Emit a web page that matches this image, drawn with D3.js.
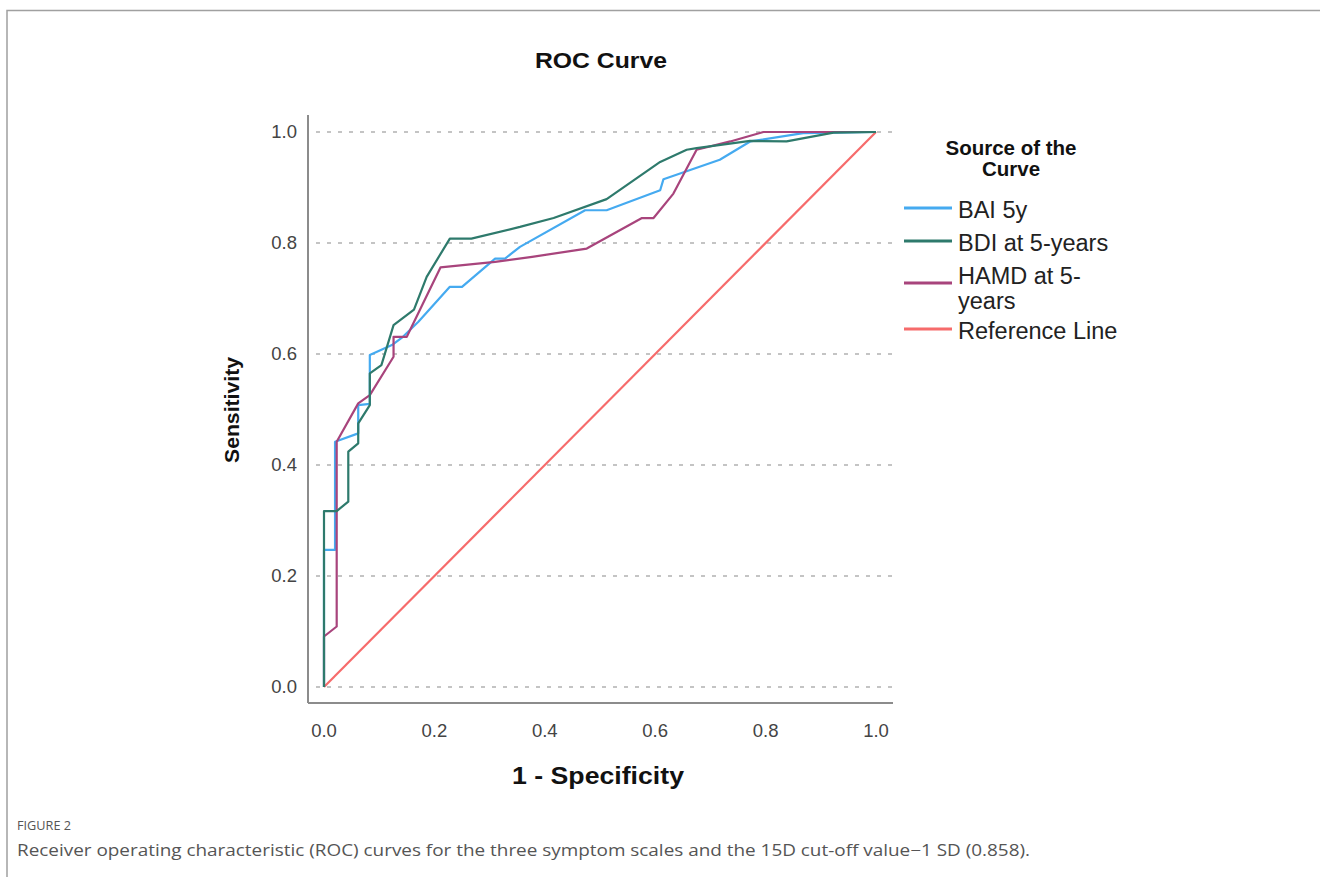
<!DOCTYPE html>
<html>
<head>
<meta charset="utf-8">
<script src="https://cdn.jsdelivr.net/npm/d3@7"></script>
<style>
  body { margin: 0; background: #fff; }
  svg { display: block; }
</style>
</head>
<body>
<svg id="roc" width="1320" height="877"></svg>
<script>
// data (1 - specificity, sensitivity)
const seriesNames = ["BAI 5y", "BDI at 5-years", "HAMD at 5-years", "Reference Line"];
const seriesColors = ["#45aaf0", "#2e7a6c", "#a8447c", "#f66b6b"];

const baiX = [0, 0, 0.02, 0.02, 0.062, 0.062, 0.083, 0.083, 0.123, 0.143, 0.171, 0.228, 0.25, 0.31, 0.328, 0.355, 0.473, 0.512, 0.609, 0.615, 0.717, 0.772, 0.868, 1];
const baiY = [0, 0.247, 0.247, 0.442, 0.457, 0.508, 0.51, 0.598, 0.616, 0.631, 0.658, 0.721, 0.721, 0.772, 0.772, 0.793, 0.859, 0.859, 0.895, 0.915, 0.95, 0.983, 0.998, 1];

const bdiX = [0, 0, 0.023, 0.044, 0.044, 0.062, 0.062, 0.083, 0.083, 0.104, 0.126, 0.163, 0.186, 0.228, 0.267, 0.355, 0.416, 0.512, 0.609, 0.657, 0.675, 0.772, 0.838, 0.923, 1];
const bdiY = [0, 0.317, 0.317, 0.334, 0.424, 0.439, 0.475, 0.508, 0.565, 0.58, 0.652, 0.68, 0.739, 0.808, 0.808, 0.829, 0.845, 0.879, 0.946, 0.968, 0.971, 0.984, 0.983, 0.999, 1];

const hamdX = [0, 0, 0.023, 0.023, 0.062, 0.083, 0.126, 0.126, 0.15, 0.211, 0.31, 0.377, 0.476, 0.576, 0.597, 0.633, 0.675, 0.736, 0.796, 1];
const hamdY = [0, 0.091, 0.109, 0.442, 0.511, 0.526, 0.595, 0.631, 0.631, 0.756, 0.766, 0.775, 0.79, 0.845, 0.845, 0.889, 0.968, 0.983, 1, 1];

const refX = [0, 1];
const refY = [0, 1];

const tickValues = [0, 0.2, 0.4, 0.6, 0.8, 1.0];

const svg = d3.select('#roc');

// outer frame of the figure panel
svg.append('path')
    .attr('d', 'M7,877 V10.5 H1320')
    .attr('fill', 'none')
    .attr('stroke', '#a0a0a0')
    .attr('stroke-width', 1.5);

const xScale = d3.scaleLinear().domain([0, 1]).range([324, 876]);
const yScale = d3.scaleLinear().domain([0, 1]).range([687, 132]);

const axisLeftX = 308;
const axisBottomY = 703;

// dotted gridlines
svg.selectAll('.grid')
    .data(tickValues)
    .join('line')
    .attr('class', 'grid')
    .attr('x1', 316)
    .attr('x2', 893)
    .attr('y1', d => yScale(d))
    .attr('y2', d => yScale(d))
    .attr('stroke', '#c4c4c4')
    .attr('stroke-width', 2)
    .attr('stroke-dasharray', '4,7');

// axis lines
svg.append('line')
    .attr('x1', axisLeftX).attr('x2', axisLeftX)
    .attr('y1', 115).attr('y2', axisBottomY)
    .attr('stroke', '#8c8c8c').attr('stroke-width', 2);
svg.append('line')
    .attr('x1', axisLeftX).attr('x2', 893)
    .attr('y1', axisBottomY).attr('y2', axisBottomY)
    .attr('stroke', '#8c8c8c').attr('stroke-width', 2);

// tick labels
svg.selectAll('.ytick')
    .data(tickValues)
    .join('text')
    .attr('class', 'ytick')
    .attr('x', 297)
    .attr('y', d => yScale(d))
    .attr('dy', '0.35em')
    .attr('text-anchor', 'end')
    .style('font', '18.5px "Liberation Sans", Arial, sans-serif')
    .style('fill', '#444')
    .text(d => d.toFixed(1));

svg.selectAll('.xtick')
    .data(tickValues)
    .join('text')
    .attr('class', 'xtick')
    .attr('x', d => xScale(d))
    .attr('y', 737)
    .attr('text-anchor', 'middle')
    .style('font', '18.5px "Liberation Sans", Arial, sans-serif')
    .style('fill', '#444')
    .text(d => d.toFixed(1));

// titles
svg.append('text')
    .attr('x', 601).attr('y', 68)
    .attr('text-anchor', 'middle')
    .attr('textLength', 132).attr('lengthAdjust', 'spacingAndGlyphs')
    .style('font', 'bold 22px "Liberation Sans", Arial, sans-serif')
    .style('fill', '#111')
    .text('ROC Curve');

svg.append('text')
    .attr('x', 598).attr('y', 784)
    .attr('text-anchor', 'middle')
    .attr('textLength', 172).attr('lengthAdjust', 'spacingAndGlyphs')
    .style('font', 'bold 24px "Liberation Sans", Arial, sans-serif')
    .style('fill', '#111')
    .text('1 - Specificity');

svg.append('text')
    .attr('transform', 'translate(239,410) rotate(-90)')
    .attr('text-anchor', 'middle')
    .attr('textLength', 106).attr('lengthAdjust', 'spacingAndGlyphs')
    .style('font', 'bold 21px "Liberation Sans", Arial, sans-serif')
    .style('fill', '#111')
    .text('Sensitivity');

// curves
const line = d3.line()
    .x(d => xScale(d[0]))
    .y(d => yScale(d[1]));

const curves = [
    d3.zip(refX, refY),
    d3.zip(baiX, baiY),
    d3.zip(hamdX, hamdY),
    d3.zip(bdiX, bdiY)
];
const curveColors = [seriesColors[3], seriesColors[0], seriesColors[2], seriesColors[1]];

svg.selectAll('.curve')
    .data(curves)
    .join('path')
    .attr('class', 'curve')
    .attr('d', line)
    .attr('fill', 'none')
    .attr('stroke', (d, i) => curveColors[i])
    .attr('stroke-width', 2.2)
    .attr('stroke-linejoin', 'round');

// legend
const legendTitle = svg.append('text')
    .attr('text-anchor', 'middle')
    .style('font', 'bold 20.5px "Liberation Sans", Arial, sans-serif')
    .style('fill', '#111');
legendTitle.append('tspan').attr('x', 1011).attr('y', 155).text('Source of the');
legendTitle.append('tspan').attr('x', 1011).attr('y', 176).text('Curve');

const legendLineY = [208, 241, 283, 329];
const legendLabelLines = [["BAI 5y"], ["BDI at 5-years"], ["HAMD at 5-", "years"], ["Reference Line"]];
const legendLabelY = [218, 251, 284, 339];

const items = svg.selectAll('.legend-item')
    .data(seriesNames)
    .join('g')
    .attr('class', 'legend-item');

items.append('line')
    .attr('x1', 904).attr('x2', 952)
    .attr('y1', (d, i) => legendLineY[i])
    .attr('y2', (d, i) => legendLineY[i])
    .attr('stroke', (d, i) => seriesColors[i])
    .attr('stroke-width', 3);

items.append('text')
    .style('font', '23.5px "Liberation Sans", Arial, sans-serif')
    .style('fill', '#222')
    .each(function (d, i) {
        const t = d3.select(this);
        legendLabelLines[i].forEach((s, k) => {
            t.append('tspan')
                .attr('x', 958)
                .attr('y', legendLabelY[i] + k * 25)
                .text(s);
        });
    });

// figure caption
svg.append('text')
    .attr('x', 17).attr('y', 830)
    .attr('textLength', 54).attr('lengthAdjust', 'spacingAndGlyphs')
    .style('font', '13px "Open Sans", "Noto Sans", sans-serif')
    .style('fill', '#555')
    .text('FIGURE 2');

svg.append('text')
    .attr('x', 17).attr('y', 856)
    .attr('textLength', 1013).attr('lengthAdjust', 'spacingAndGlyphs')
    .style('font', '16px "Open Sans", "Noto Sans", sans-serif')
    .style('fill', '#555')
    .text('Receiver operating characteristic (ROC) curves for the three symptom scales and the 15D cut-off value\u22121 SD (0.858).');
</script>
</body>
</html>
